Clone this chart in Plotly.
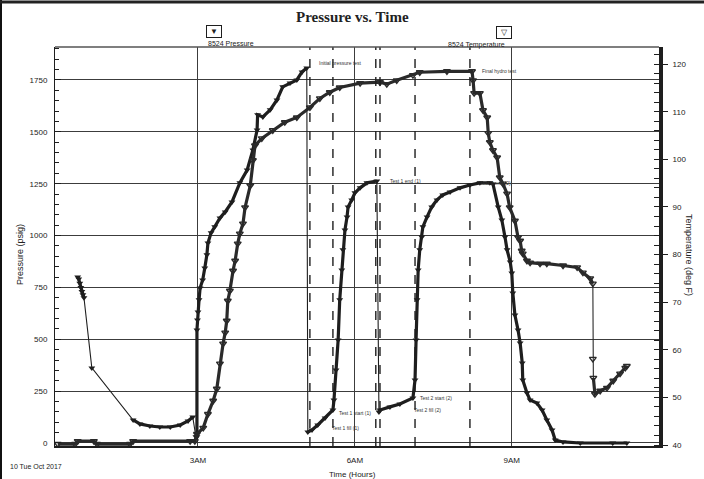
import plotly.graph_objects as go

# ---------------- data (hours after midnight, psig, deg F) ----------------
pressure_time = [
    0.70, 0.72, 0.74, 0.76, 0.78, 0.80, 0.82, 0.97, 1.76, 1.89, 2.08, 2.27, 2.47, 2.66, 2.81, 2.90,
    2.96, 2.98, 2.98, 2.99, 3.00, 3.02, 3.04, 3.09, 3.13, 3.17, 3.19, 3.25, 3.32, 3.42, 3.52, 3.65,
    3.80, 3.94, 4.05, 4.13, 4.14, 4.24, 4.38, 4.51, 4.62, 4.76, 4.89, 4.99, 5.08,
    5.10, 5.18, 5.29, 5.43, 5.58, 5.60, 5.64, 5.68, 5.71, 5.75, 5.77, 5.81, 5.85, 5.87, 5.94, 6.00,
    6.10, 6.23, 6.42,
    6.46, 6.48, 6.67, 6.86, 7.11, 7.15, 7.17, 7.19, 7.21, 7.24, 7.28, 7.30, 7.38, 7.47, 7.57, 7.68,
    7.82, 8.01, 8.20, 8.39, 8.58, 8.64,
    8.74, 8.81, 8.87, 8.91, 8.97, 9.00, 9.02, 9.06, 9.12, 9.16, 9.20, 9.21, 9.29, 9.35, 9.48, 9.58,
    9.67, 9.77, 9.83, 9.98, 10.31, 10.93, 11.20,
]
pressure_psig = [
    800, 790, 770, 750, 730, 715, 700, 362, 111, 92, 82, 77, 77, 87, 106, 125,
    30, 30, 545, 593, 632, 690, 747, 786, 844, 907, 964, 1013, 1042, 1085, 1114, 1162,
    1254, 1316, 1413, 1509, 1582, 1572, 1606, 1654, 1717, 1736, 1750, 1789, 1808,
    53, 63, 87, 121, 159, 207, 352, 497, 690, 834, 931, 1027, 1090, 1138, 1172, 1206,
    1230, 1254, 1263,
    149, 159, 174, 188, 217, 304, 497, 690, 834, 931, 993, 1042, 1090, 1138, 1172, 1196,
    1210, 1230, 1244, 1254, 1254, 1249,
    1138, 1075, 993, 931, 873, 820, 723, 617, 545, 482, 386, 304, 241, 207, 193, 159,
    111, 63, 14, 5, 0, 0, 0,
]

temperature_time = [
    0.32, 0.65, 0.70, 1.01, 1.07, 1.70, 1.76, 2.85, 2.94,
    2.98, 3.10, 3.19, 3.29, 3.36, 3.42, 3.48, 3.52, 3.55, 3.57, 3.61, 3.67, 3.71, 3.76, 3.80, 3.86,
    3.90, 4.00, 4.05, 4.09, 4.22, 4.43, 4.66, 4.89, 5.14, 5.33, 5.52, 5.71, 6.10, 6.48, 6.61, 6.80,
    7.11, 7.24, 7.76, 8.24,
    8.26, 8.28, 8.39, 8.45, 8.53, 8.55, 8.58, 8.64, 8.72, 8.77, 8.83, 8.91, 8.96, 9.06, 9.12, 9.16,
    9.19, 9.21, 9.29, 9.35, 9.54, 9.67, 9.98, 10.25, 10.36, 10.50, 10.55, 10.55, 10.56, 10.59, 10.69,
    10.82, 10.94, 11.07, 11.17, 11.20,
]
temperature_degf = [
    40.2, 40.2, 40.8, 40.8, 40.2, 40.2, 40.8, 40.8, 40.8,
    42.3, 43.6, 46.5, 49.3, 51.8, 57.1, 61.3, 63.6, 66.1, 70.3, 72.4, 76.6, 78.7, 82.3, 84.4, 86.5,
    89.9, 94.5, 99.8, 102.9, 104.4, 106.1, 107.8, 108.8, 110.9, 112.8, 114.1, 115.1, 116.0, 116.2, 115.8, 116.6,
    117.7, 118.3, 118.5, 118.5,
    116.6, 113.9, 113.9, 110.3, 108.8, 105.5, 103.6, 101.9, 100.4, 96.2, 94.9, 92.8, 89.9, 87.1, 83.6, 82.9,
    80.8, 80.2, 78.7, 78.3, 78.1, 78.1, 77.7, 77.3, 76.2, 75.0, 73.9, 58.1, 54.1, 50.7, 51.4,
    52.0, 53.5, 55.0, 56.2, 56.6,
]

time_ticks = [3, 6, 9]
time_tick_text = ["3AM", "6AM", "9AM"]
pressure_ticks = [0, 250, 500, 750, 1000, 1250, 1500, 1750]
temperature_ticks = [40, 50, 60, 70, 80, 90, 100, 110, 120]

event_times = [5.14, 5.58, 6.40, 6.48, 7.15, 8.20]
event_labels = ["Initial pressure test", "Test 1 start (1)", "Test 1 fill (1)", "Test 1 end (1)",
                "Test 2 start (2)", "Test 2 fill (2)", "Test 2 end (2)", "Final hydro test"]
event_label_time = [5.28, 5.66, 5.52, 6.63, 7.20, 7.09, 8.35, 8.39]
event_label_psig = [1832, 145, 72, 1263, 217, 159, 1254, 1794]

# sparse logging stretches (drawn as a thin connector, not as a dense band):
# index i means the segment from point i to point i+1
pressure_sparse_after = [6, 7, 15, 44, 63]
temperature_sparse_after = [71, 72]

# ---------------- layout helpers (pixel -> paper) ----------------
L, R, T, B = 55, 659, 47, 446
W, H = 704, 479


def px(x):
    return (x - L) / (R - L)


def py(y):
    return (B - y) / (B - T)


def dense_band(xs, ys, sparse_after):
    bx, by = [], []
    for i, (a, b) in enumerate(zip(xs, ys)):
        bx.append(a)
        by.append(b)
        if i in sparse_after:
            bx.append(None)
            by.append(None)
    return bx, by


INK = "#1e1e1e"
GRID = "#3c3c3c"
FONT = "Liberation Sans"

fig = go.Figure()

# temperature: thin connector, dense band, markers
tbx, tby = dense_band(temperature_time, temperature_degf, temperature_sparse_after)
fig.add_trace(go.Scatter(x=temperature_time, y=temperature_degf, yaxis="y2", mode="lines",
                         line=dict(color="#2a2a2a", width=1.1), hoverinfo="skip"))
fig.add_trace(go.Scatter(x=tbx, y=tby, yaxis="y2", mode="lines", connectgaps=False,
                         line=dict(color="#2a2a2a", width=3.2), hoverinfo="skip"))
fig.add_trace(go.Scatter(
    x=temperature_time, y=temperature_degf, yaxis="y2", mode="markers",
    name="8524 Temperature",
    marker=dict(symbol="triangle-down-open", size=6, color="#2a2a2a", line=dict(width=1.4)),
))

# pressure: thin connector, dense band, markers
pbx, pby = dense_band(pressure_time, pressure_psig, pressure_sparse_after)
fig.add_trace(go.Scatter(x=pressure_time, y=pressure_psig, mode="lines",
                         line=dict(color=INK, width=1.1), hoverinfo="skip"))
fig.add_trace(go.Scatter(x=pbx, y=pby, mode="lines", connectgaps=False,
                         line=dict(color=INK, width=3.2), hoverinfo="skip"))
fig.add_trace(go.Scatter(
    x=pressure_time, y=pressure_psig, mode="markers",
    name="8524 Pressure",
    marker=dict(symbol="triangle-down", size=6, color=INK),
))

shapes = []
for t in event_times:
    shapes.append(dict(type="line", xref="x", yref="paper", x0=t, x1=t, y0=0, y1=1,
                       line=dict(color=INK, width=1.4, dash="dash"), layer="above"))
# top frame line
shapes.append(dict(type="line", xref="paper", yref="paper", x0=0, x1=1, y0=1, y1=1,
                   line=dict(color="#555", width=1.5)))
# scan border (left and top edge of page)
shapes.append(dict(type="line", xref="paper", yref="paper", x0=px(1), x1=px(1), y0=py(479), y1=py(0),
                   line=dict(color="#111", width=2)))
shapes.append(dict(type="line", xref="paper", yref="paper", x0=px(0), x1=px(704), y0=py(2), y1=py(2),
                   line=dict(color="#222", width=3)))


def note(text, x, y, size=7, family=FONT, **kw):
    d = dict(text=text, xref="paper", yref="paper", x=px(x), y=py(y), showarrow=False,
             yanchor="middle", font=dict(family=family, size=size, color="#222"))
    d.update(kw)
    return d


annotations = [
    note("<b>Pressure vs. Time</b>", 352, 17, size=15, family="Liberation Serif"),
    note("▼", 206, 32, size=8, bordercolor=INK, borderwidth=1, borderpad=1, width=12, height=9),
    note("8524 Pressure", 206, 44, size=7),
    note("▽", 512, 33, size=8, bordercolor=INK, borderwidth=1, borderpad=1, width=12, height=9),
    note("8524 Temperature", 507, 45, size=7),
    note("Pressure (psig)", 13, 255, size=9, textangle=-90),
    note("Temperature (deg F)", 696, 255, size=9, textangle=90),
    note("Time (Hours)", 352, 474, size=8),
    note("10 Tue Oct 2017", 8, 466, size=7, xanchor="left"),
]
for txt, t, p in zip(event_labels, event_label_time, event_label_psig):
    annotations.append(dict(text=txt, x=t, y=p, xref="x", yref="y", xanchor="left", yanchor="middle",
                            showarrow=False, font=dict(family=FONT, size=5, color="#333")))

fig.update_layout(
    width=W, height=H,
    margin=dict(l=L, r=W - R, t=T, b=H - B, pad=0),
    paper_bgcolor="white", plot_bgcolor="white",
    showlegend=False,
    xaxis=dict(range=[0.266, 11.815], tickvals=time_ticks, ticktext=time_tick_text,
               showgrid=True, gridcolor=GRID, gridwidth=1.2, zeroline=False,
               showline=True, linecolor=INK, linewidth=2, ticks="",
               tickfont=dict(family=FONT, size=8, color="#222"), ticklabelstandoff=5),
    yaxis=dict(range=[-14.5, 1909], tickvals=pressure_ticks, showgrid=True, gridcolor=GRID,
               gridwidth=1.2, zeroline=False, showline=True, linecolor=INK, linewidth=1,
               ticks="inside", ticklen=6, tickcolor=INK,
               minor=dict(dtick=50, ticks="inside", ticklen=4, tickcolor=INK, showgrid=False),
               tickfont=dict(family=FONT, size=8, color="#222"), ticklabelstandoff=5),
    yaxis2=dict(range=[39.79, 123.6], tickvals=temperature_ticks, overlaying="y", side="right",
                showgrid=False, zeroline=False, showline=True, linecolor=INK, linewidth=4,
                ticks="outside", ticklen=5, tickcolor=INK,
                minor=dict(dtick=2, ticks="inside", ticklen=5, tickcolor=INK),
                tickfont=dict(family=FONT, size=8, color="#222"), ticklabelstandoff=3),
    shapes=shapes,
    annotations=annotations,
)

fig.write_html("out.html", config={"displayModeBar": False})
